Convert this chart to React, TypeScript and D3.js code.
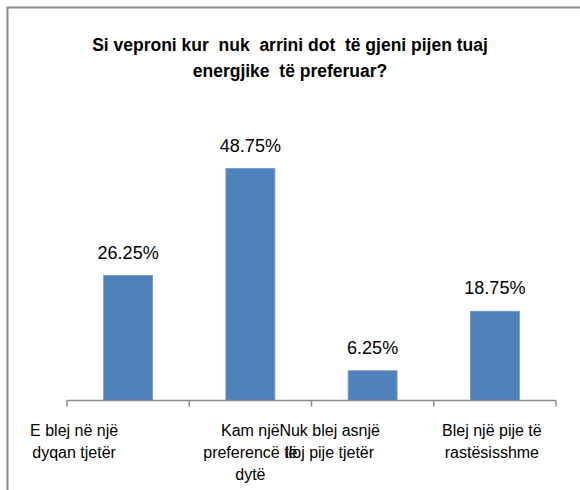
import React from "react";
import * as d3 from "d3";

const titleLines = ["Si veproni kur  nuk  arrini dot  të gjeni pijen tuaj", "energjike  të preferuar?"];
const categories = [
  "E blej në një dyqan tjetër",
  "Kam një preferencë të dytë",
  "Nuk blej asnjë lloj pije tjetër",
  "Blej një pije të rastësisshme",
];
const categoryLines = [
  ["E blej në një", "dyqan tjetër"],
  ["Kam një", "preferencë të", "dytë"],
  ["Nuk blej asnjë", "lloj pije tjetër"],
  ["Blej një pije të", "rastësisshme"],
];
const values = [26.25, 48.75, 6.25, 18.75];
const valueLabels = ["26.25%", "48.75%", "6.25%", "18.75%"];
const labelShift = [-54, 0, -43, -3];

export default function App() {
  const W = 580, H = 490;
  const x = d3.scaleBand<string>().domain(categories).range([67, 556]).paddingInner(0.6).paddingOuter(0.3);
  const y = d3.scaleLinear().domain([0, 60]).range([400.5, 115]);
  const band = x.step();
  const font = "'Liberation Sans', Arial, sans-serif";
  return (
    <svg width={W} height={H} style={{ position: "absolute", left: 0, top: 0, background: "#fff" }}>
      <rect x={7.5} y={7.5} width={W + 20} height={H + 20} fill="#fff" stroke="#8c8c8c" strokeWidth={2} />
      {titleLines.map((t, i) => (
        <text key={i} x={290} y={51 + i * 26} textAnchor="middle" fontFamily={font} fontWeight="bold" fontSize={17.5} fill="#000" style={{ whiteSpace: "pre" }}>
          {t}
        </text>
      ))}
      {categories.map((c, i) => (
        <rect key={c} x={x(c)} y={y(values[i])} width={x.bandwidth()} height={y(0) - y(values[i])} fill="#4f81bd" stroke="#6b96c9" strokeWidth={0.8} />
      ))}
      {categories.map((c, i) => (
        <text key={"v" + c} x={(x(c) as number) + x.bandwidth() / 2} y={y(values[i]) - 17} textAnchor="middle" fontFamily={font} fontSize={18} fill="#000">
          {valueLabels[i]}
        </text>
      ))}
      <line x1={67} x2={556} y1={y(0)} y2={y(0)} stroke="#8c8c8c" strokeWidth={1.5} />
      {d3.range(categories.length + 1).map((k) => (
        <line key={"t" + k} x1={67 + k * band} x2={67 + k * band} y1={y(0)} y2={y(0) + 6} stroke="#8c8c8c" strokeWidth={1.5} />
      ))}
      {categories.map((c, i) => (
        <text key={"c" + c} textAnchor="middle" fontFamily={font} fontSize={16} fill="#000">
          {categoryLines[i].map((l, j) => (
            <tspan key={j} x={(x(c) as number) + x.bandwidth() / 2 + labelShift[i]} y={436 + j * 22}>
              {l}
            </tspan>
          ))}
        </text>
      ))}
    </svg>
  );
}
